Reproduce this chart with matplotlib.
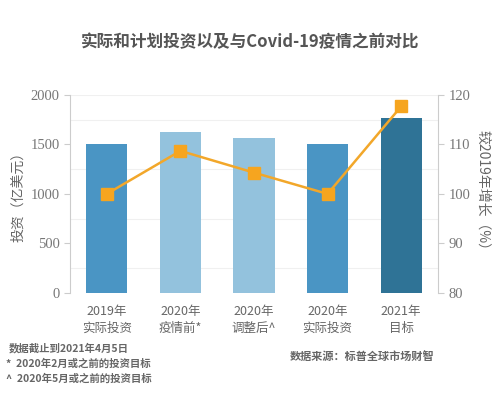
import matplotlib.pyplot as plt

plt.rcParams['font.family'] = ['Noto Sans CJK SC', 'DejaVu Sans']

# data
categories = ['2019年\n实际投资', '2020年\n疫情前*', '2020年\n调整后^', '2020年\n实际投资', '2021年\n目标']
invest = [1500, 1630, 1565, 1500, 1765]
growth = [100, 108.7, 104.3, 100, 117.7]
bar_colors = ['#4a95c4', '#93c2dd', '#93c2dd', '#4a95c4', '#2f7396']

fig = plt.figure(figsize=(5, 3.99), dpi=100)
ax = fig.add_axes([0.14, 0.266, 0.736, 0.496])
x = list(range(len(categories)))
ax.bar(x, invest, width=0.56, color=bar_colors, zorder=2)
ax.set_xlim(-0.5, 4.5)
ax.set_ylim(0, 2000)
ax.set_yticks([0, 500, 1000, 1500, 2000])
for y in [250, 750, 1250, 1750, 2000]:
    ax.axhline(y, color='#f0f0f0', lw=0.8, zorder=0)
ax.set_xticks(x)
ax.set_xticklabels(categories, fontsize=9, color='#666666', linespacing=1.35)
ax.tick_params(axis='x', length=0, pad=9)
ax.tick_params(axis='y', labelsize=10.5, colors='#777777', length=4, color='#cccccc',
               labelfontfamily='Liberation Serif')
ax.set_ylabel('投资（亿美元）', fontsize=10, color='#666666', labelpad=4)
for s in ['top', 'right', 'bottom']:
    ax.spines[s].set_visible(False)
ax.spines['left'].set_color('#cccccc')

ax2 = ax.twinx()
ax2.plot(x, growth, color='#f2a72a', lw=1.8, marker='s', markersize=9,
         markerfacecolor='#f6a51f', markeredgecolor='#f6a51f', zorder=3)
ax2.set_ylim(80, 120)
ax2.set_yticks([80, 90, 100, 110, 120])
ax2.tick_params(axis='y', labelsize=10.5, colors='#777777', length=4, color='#cccccc',
                labelfontfamily='Liberation Serif')
ax2.set_ylabel('较2019年增长（%）', fontsize=10, color='#666666', rotation=-90, labelpad=14)
for s in ['top', 'left', 'bottom']:
    ax2.spines[s].set_visible(False)
ax2.spines['right'].set_color('#cccccc')

fig.text(0.5, 0.895, '实际和计划投资以及与Covid-19疫情之前对比', ha='center', va='center',
         fontsize=12, fontweight='bold', color='#555555')

fig.text(0.018, 0.12, '数据截止到2021年4月5日', fontsize=7.5, color='#666666', fontweight='bold')
fig.text(0.012, 0.082, '*  2020年2月或之前的投资目标', fontsize=7.5, color='#666666', fontweight='bold')
fig.text(0.012, 0.044, '^  2020年5月或之前的投资目标', fontsize=7.5, color='#666666', fontweight='bold')
fig.text(0.58, 0.098, '数据来源：标普全球市场财智', fontsize=8, color='#666666',
         fontweight='bold', style='italic')

fig.savefig('out.png', dpi=100, facecolor='white')
